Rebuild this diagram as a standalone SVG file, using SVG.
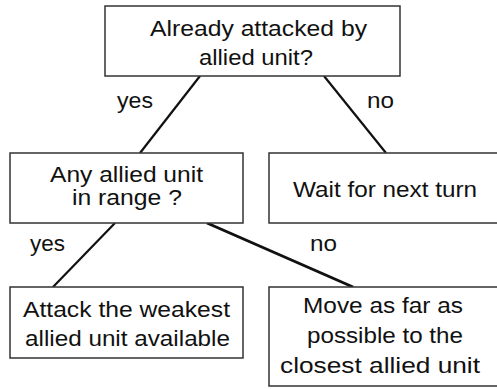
<svg xmlns="http://www.w3.org/2000/svg" width="497" height="389" viewBox="0 0 497 389">
<style>
.box{fill:#fff;stroke:#333;stroke-width:1.5}
.t{font-family:"Liberation Sans",Arial,sans-serif;font-size:22px;fill:#111;text-anchor:middle}
.l{font-family:"Liberation Sans",Arial,sans-serif;font-size:22px;fill:#111}
.c{stroke:#111;stroke-width:2.2;fill:none}
text{lengthAdjust:spacingAndGlyphs}
</style>
<rect width="497" height="389" fill="#fff"/>
<g id="connectors">
<line class="c" x1="200" y1="76" x2="140" y2="153"/>
<line class="c" x1="324" y1="76" x2="386" y2="153"/>
<line class="c" x1="115" y1="223" x2="53" y2="287"/>
<line class="c" x1="207" y1="223" x2="353" y2="287" style="stroke-width:3"/>
<text class="l" x="117" y="108" textLength="36" lengthAdjust="spacingAndGlyphs">yes</text>
<text class="l" x="367" y="108" textLength="27" lengthAdjust="spacingAndGlyphs">no</text>
<text class="l" x="30" y="251" textLength="35" lengthAdjust="spacingAndGlyphs">yes</text>
<text class="l" x="310" y="251" textLength="27" lengthAdjust="spacingAndGlyphs">no</text>
</g>
<g id="n1">
<rect class="box" x="105" y="6" width="295" height="70"/>
<text class="t" x="258.5" y="36" textLength="217" lengthAdjust="spacingAndGlyphs">Already attacked by</text>
<text class="t" x="256" y="65" textLength="114" lengthAdjust="spacingAndGlyphs">allied unit?</text>
</g>
<g id="n2">
<rect class="box" x="10" y="153" width="233" height="70"/>
<text class="t" x="126.5" y="182" textLength="153" lengthAdjust="spacingAndGlyphs">Any allied unit</text>
<text class="t" x="127" y="205" textLength="110" lengthAdjust="spacingAndGlyphs">in range ?</text>
</g>
<g id="n3">
<rect class="box" x="269" y="153" width="240" height="70"/>
<text class="t" x="385" y="197" textLength="184" lengthAdjust="spacingAndGlyphs">Wait for next turn</text>
</g>
<g id="n4">
<rect class="box" x="10" y="287" width="233" height="71"/>
<text class="t" x="126.5" y="317" textLength="207" lengthAdjust="spacingAndGlyphs">Attack the weakest</text>
<text class="t" x="127.5" y="346" textLength="205" lengthAdjust="spacingAndGlyphs">allied unit available</text>
</g>
<g id="n5">
<rect class="box" x="269" y="287" width="240" height="99"/>
<text class="t" x="383" y="313" textLength="160" lengthAdjust="spacingAndGlyphs">Move as far as</text>
<text class="t" x="385" y="343" textLength="156" lengthAdjust="spacingAndGlyphs">possible to the</text>
<text class="t" x="380" y="373" textLength="200" lengthAdjust="spacingAndGlyphs">closest allied unit</text>
</g>
</svg>
